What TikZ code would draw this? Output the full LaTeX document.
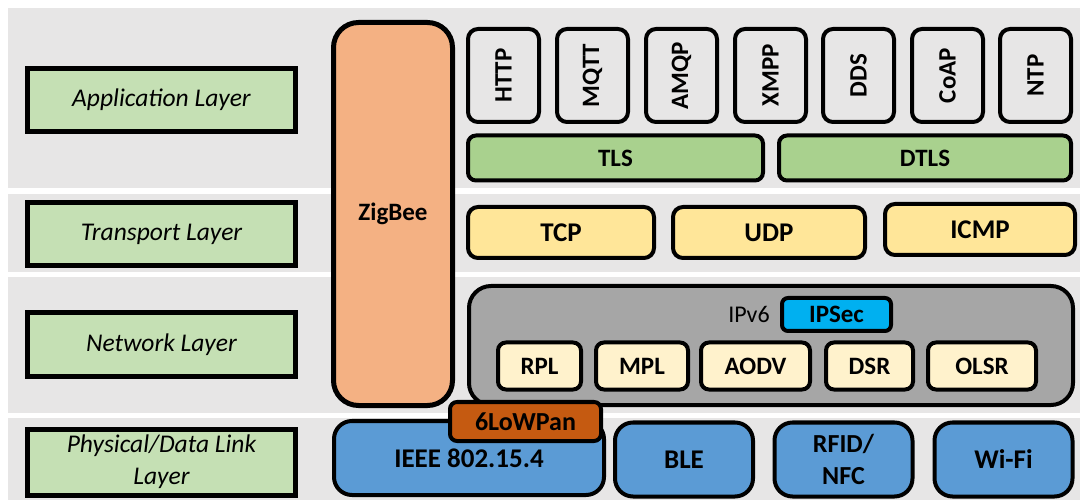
\documentclass[tikz,border=0pt]{standalone}
\usepackage{fontspec}
\setmainfont{Carlito}
\definecolor{bandgray}{HTML}{E7E6E6}
\definecolor{layergreen}{HTML}{C5E0B4}
\definecolor{zigorange}{HTML}{F4B183}
\definecolor{tlsgreen}{HTML}{A9D18E}
\definecolor{tcpyellow}{HTML}{FFE699}
\definecolor{ipgray}{HTML}{A6A6A6}
\definecolor{ipsecblue}{HTML}{00B0F0}
\definecolor{routecream}{HTML}{FFF2CC}
\definecolor{lowpanbrown}{HTML}{C55A11}
\definecolor{phyblue}{HTML}{5B9BD5}

\begin{document}
\begin{tikzpicture}[x=1bp,y=-1bp,
	layerbox/.style={draw,line width=5bp,fill=layergreen,minimum width=268bp,minimum height=63bp,
		inner sep=0pt,align=center,font=\fontsize{25.5bp}{32bp}\selectfont\itshape},
	protobox/.style={draw,line width=4bp,rounded corners=#1,inner sep=0pt,align=center,
		font=\fontsize{25bp}{31bp}\selectfont\bfseries},
	protobox/.default=10bp,
	appbox/.style={protobox,rotate=90,fill=bandgray,minimum width=93bp,minimum height=71bp},
	tlsbox/.style={protobox=8bp,fill=tlsgreen,minimum height=45bp},
	tcpbox/.style={protobox,fill=tcpyellow,minimum height=51bp,font=\fontsize{27bp}{30bp}\selectfont\bfseries},
	routebox/.style={protobox=8bp,fill=routecream,minimum height=47bp},
	phybox/.style={protobox=18bp,fill=phyblue,minimum height=74bp,font=\fontsize{27bp}{32bp}\selectfont\bfseries}]
	\useasboundingbox[fill=white] (0,0) rectangle (1080,500);
	% layer bands
	\fill[bandgray] (8,8) rectangle (1080,188);
	\fill[bandgray] (8,194) rectangle (1080,272);
	\fill[bandgray] (8,277) rectangle (1080,413);
	\fill[bandgray] (8,418) rectangle (1080,500);
	% layer names
	\node[layerbox] (app) at (161.5,100) {Application Layer};
	\node[layerbox] (trans) at (161.5,234) {Transport Layer};
	\node[layerbox] (net) at (161.5,344.5) {Network Layer};
	\node[layerbox,minimum height=66bp] (phy) at (161.5,462) {Physical/Data Link\\Layer};
	% zigbee
	\node[protobox=25bp,line width=5bp,fill=zigorange,minimum width=119bp,minimum height=383bp] (zigbee) at (393,214) {ZigBee};
	% application protocols
	\foreach \nm/\cx in {HTTP/503.5,MQTT/592.5,AMQP/681.5,XMPP/770.5,DDS/858.5,CoAP/947.5,NTP/1035.5}
		\node[appbox] (\nm) at (\cx,75.5) {\nm};
	\node[tlsbox,minimum width=295bp] (tls) at (615.5,158) {TLS};
	\node[tlsbox,minimum width=292bp] (dtls) at (925,158) {DTLS};
	% transport
	\node[tcpbox,minimum width=186bp] (tcp) at (561,232.5) {TCP};
	\node[tcpbox,minimum width=192bp] (udp) at (769,232.5) {UDP};
	\node[tcpbox,minimum width=190bp] (icmp) at (980,229.5) {ICMP};
	% network
	\node[protobox=22bp,fill=ipgray,minimum width=604bp,minimum height=119bp] (ipv6) at (771,345.5) {};
	\node[font=\fontsize{24bp}{28bp}\selectfont,inner sep=0pt] (ipv6lbl) at (749,314) {IPv6};
	\node[protobox=6bp,fill=ipsecblue,minimum width=109bp,minimum height=33bp] (ipsec) at (836.5,314.5) {IPSec};
	\foreach \nm/\cx/\w in {RPL/539.5/83,MPL/642/92,AODV/755.5/109,DSR/869.5/87,OLSR/982/108}
		\node[routebox,minimum width=\w bp] (\nm) at (\cx,366) {\nm};
	% physical / data link
	\node[phybox,minimum width=270bp] (ieee) at (469,458) {\raisebox{-4bp}{IEEE 802.15.4}};
	\node[phybox,minimum width=138bp] (ble) at (684,459.5) {BLE};
	\node[phybox,minimum width=138bp,font=\fontsize{26bp}{32bp}\selectfont\bfseries] (rfid) at (843.5,459.5) {RFID/\\NFC};
	\node[phybox,minimum width=138bp] (wifi) at (1003.5,459.5) {Wi-Fi};
	\node[protobox=7bp,fill=lowpanbrown,minimum width=151bp,minimum height=39bp,font=\fontsize{26bp}{30bp}\selectfont\bfseries] (lowpan) at (525.5,421.5) {6LoWPan};
\end{tikzpicture}
\end{document}
